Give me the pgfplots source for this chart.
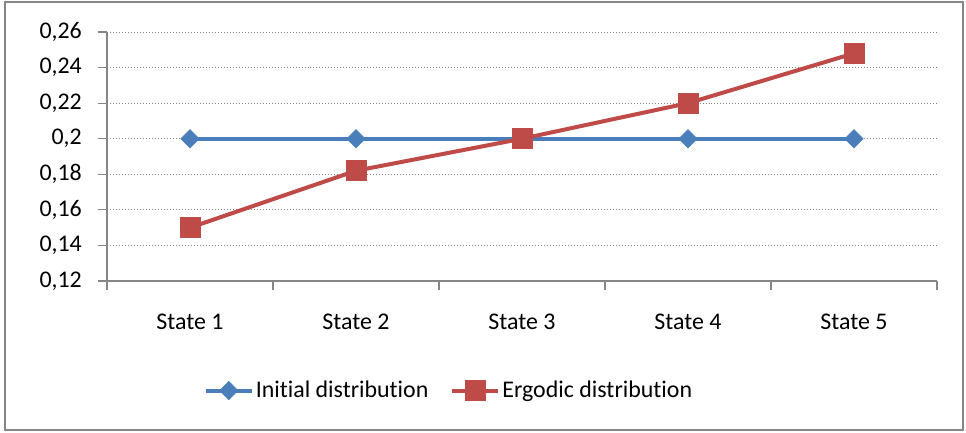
\documentclass[border=0pt]{standalone}
\usepackage{pgfplots}
\pgfplotsset{compat=1.18}
\usepackage{fontspec}
\setmainfont{Carlito}[Ligatures=NoCommon]
\definecolor{xlblue}{HTML}{4A7EBB}
\definecolor{xlred}{HTML}{BE4B48}
\definecolor{xlgrid}{HTML}{868686}
\begin{document}
\begin{tikzpicture}[x=1bp,y=1bp]
\fontsize{24}{28}\selectfont
\useasboundingbox (-107,-151) rectangle (859,281);
\draw[xlgrid, line width=2.5bp] (-102,-149) rectangle (856,279);
\begin{axis}[
  at={(0,0)}, anchor=south west,
  scale only axis, width=830bp, height=249bp,
  xmin=0.5, xmax=5.5, ymin=0.12, ymax=0.26,
  xtick={1,2,3,4,5},
  xticklabels={State 1,State 2,State 3,State 4,State 5},
  minor xtick={0.5,1.5,2.5,3.5,4.5,5.5},
  ytick={0.12,0.14,...,0.261},
  axis x line*=bottom, axis y line*=left,
  axis line style={xlgrid, line width=1.2bp, -},
  tick align=outside,
  major tick length=9bp,
  x tick style={draw=none},
  minor x tick style={draw=xlgrid, line width=1.2bp},
  minor tick length=9bp,
  y tick style={xlgrid, line width=1.2bp},
  ymajorgrids,
  major grid style={xlgrid, line width=1bp, dotted},
  xticklabel style={font=\fontsize{24}{28}\selectfont, yshift=-16bp},
  yticklabel style={font=\fontsize{24}{28}\selectfont, xshift=-8bp},
  /pgf/number format/.cd, use comma, fixed, precision=2, assume math mode=true,
  /pgfplots/.cd,
  legend columns=2,
  legend style={at={(0.412,-0.44)}, anchor=center, draw=none, fill=none,
    font=\fontsize{24}{28}\selectfont,
    /tikz/every even column/.append style={column sep=20bp},
    /tikz/every odd column/.append style={inner xsep=1bp}},
  legend image code/.code={
    \draw[#1, mark repeat=2, mark phase=2] plot coordinates {(0bp,0bp) (23bp,0bp) (46bp,0bp)};},
  clip=false,
]
\addplot[xlblue, line width=4bp, mark=square*, mark size=6.5bp,
  mark options={rotate=45, solid, line width=0.5bp}]
  coordinates {(1,0.2) (2,0.2) (3,0.2) (4,0.2) (5,0.2)};
\addlegendentry{Initial distribution}
\addplot[xlred, line width=4bp, mark=square*, mark size=10bp,
  mark options={solid, line width=0.5bp}]
  coordinates {(1,0.15) (2,0.182) (3,0.2) (4,0.22) (5,0.248)};
\addlegendentry{Ergodic distribution}
\end{axis}
\end{tikzpicture}
\end{document}
